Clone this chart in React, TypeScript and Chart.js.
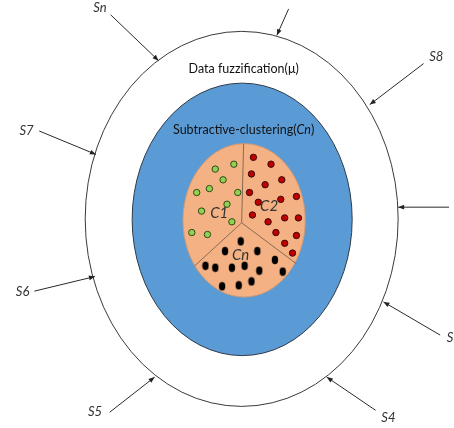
import { useEffect, useRef } from 'react';
import { Chart, registerables } from 'chart.js';

Chart.register(...registerables);

// rings: outer fuzzification ring, clustering disc, cluster disc
const ringCx = [242, 242.5, 244.5];
const ringCy = [219, 219.5, 220.5];
const ringRx = [160, 112.5, 62.5];
const ringRy = [192, 139.5, 78.5];
const ringFill = ['#ffffff', '#5b9bd5', '#f4b183'];
const ringStroke = ['#3a3a3a', '#2f3b48', '#d49a73'];

const dividerCenter: [number, number] = [242, 223];
const dividerEnds: [number, number][] = [
  [244, 142],
  [194, 267],
  [298, 265],
];

const greenPoints: [number, number][] = [
  [215, 168], [234, 163], [223, 179], [196, 192], [209, 188], [238, 192],
  [227, 204], [201, 211], [232, 222], [191, 233], [207, 235],
];
const redPoints: [number, number][] = [
  [254, 156], [272, 163], [252, 173], [283, 179], [266, 184], [250, 192],
  [298, 196], [282, 199], [259, 202], [253, 215], [269, 222], [286, 218],
  [300, 218], [277, 233], [298, 236], [286, 244], [294, 254],
];
const blackPoints: [number, number][] = [
  [241, 242], [225, 252], [258, 252], [276, 261], [205, 267], [215, 269],
  [232, 269], [245, 267], [260, 272], [284, 273], [222, 288], [239, 287],
  [252, 283],
];

// arrows: [fromX, fromY, toX, toY]
const arrowLabels = ['Sn', 'S9', 'S8', 'S7', 'S6', 'S5', 'S4', 'S3', 'S2'];
const arrowSegments: [number, number, number, number][] = [
  [108, 10, 157, 57],
  [290, 4, 278, 31],
  [428, 60, 373, 102],
  [35, 129, 93, 153],
  [30, 293, 92, 278],
  [107, 417, 153, 381],
  [379, 415, 329, 381],
  [445, 338, 387, 304],
  [460, 207, 402, 207],
];
const arrowLabelPos: [number, number][] = [
  [97, 3], [298, -12], [441, 53], [22, 129], [18, 294], [92, 417],
  [392, 423], [459, 341], [470, 207],
];

const titleTexts = ['Data fuzzification(\u03bc)', 'Subtractive-clustering('];
const titlePos: [number, number][] = [
  [244, 65],
  [244, 128],
];
const clusterLabels = ['C1', 'C2', 'Cn'];
const clusterLabelPos: [number, number][] = [
  [219, 213],
  [270, 206],
  [241, 256],
];

const FONT = 'Lato, "Open Sans", sans-serif';

function makeBlackDot() {
  const c = document.createElement('canvas');
  c.width = 8;
  c.height = 10;
  const ctx = c.getContext('2d')!;
  ctx.fillStyle = '#000000';
  ctx.beginPath();
  ctx.ellipse(4, 5, 3.2, 4.2, 0, 0, Math.PI * 2);
  ctx.fill();
  return c;
}

const diagramPlugin = {
  id: 'diagram',
  beforeDatasetsDraw(chart: Chart) {
    const { ctx } = chart;
    const xs = chart.scales.x;
    const ys = chart.scales.y;
    ctx.save();
    ringCx.forEach((cx, i) => {
      const px = xs.getPixelForValue(cx);
      const py = ys.getPixelForValue(ringCy[i]);
      const rx = Math.abs(xs.getPixelForValue(cx + ringRx[i]) - px);
      const ry = Math.abs(ys.getPixelForValue(ringCy[i] + ringRy[i]) - py);
      ctx.beginPath();
      ctx.ellipse(px, py, rx, ry, 0, 0, Math.PI * 2);
      ctx.fillStyle = ringFill[i];
      ctx.fill();
      ctx.lineWidth = 1;
      ctx.strokeStyle = ringStroke[i];
      ctx.stroke();
    });
    ctx.restore();
  },
  afterDatasetsDraw(chart: Chart) {
    const { ctx } = chart;
    const xs = chart.scales.x;
    const ys = chart.scales.y;
    const X = (v: number) => xs.getPixelForValue(v);
    const Y = (v: number) => ys.getPixelForValue(v);
    ctx.save();
    // arrow heads
    ctx.fillStyle = '#222222';
    arrowSegments.forEach(([x0, y0, x1, y1]) => {
      const a = Math.atan2(Y(y1) - Y(y0), X(x1) - X(x0));
      const len = 6;
      const w = 2.4;
      const tx = X(x1);
      const ty = Y(y1);
      ctx.beginPath();
      ctx.moveTo(tx, ty);
      ctx.lineTo(tx - len * Math.cos(a) + w * Math.sin(a), ty - len * Math.sin(a) - w * Math.cos(a));
      ctx.lineTo(tx - len * Math.cos(a) - w * Math.sin(a), ty - len * Math.sin(a) + w * Math.cos(a));
      ctx.closePath();
      ctx.fill();
    });
    // S labels
    ctx.fillStyle = '#333333';
    ctx.font = `italic 13px ${FONT}`;
    ctx.textAlign = 'center';
    ctx.textBaseline = 'middle';
    arrowLabels.forEach((t, i) => {
      ctx.fillText(t, X(arrowLabelPos[i][0]), Y(arrowLabelPos[i][1]));
    });
    // titles
    ctx.fillStyle = '#111111';
    ctx.font = `12.5px ${FONT}`;
    ctx.fillText(titleTexts[0], X(titlePos[0][0]), Y(titlePos[0][1]));
    const head = titleTexts[1];
    const w1 = ctx.measureText(head).width;
    ctx.font = `italic 12.5px ${FONT}`;
    const w2 = ctx.measureText('Cn').width;
    ctx.font = `12.5px ${FONT}`;
    const w3 = ctx.measureText(')').width;
    const total = w1 + w2 + w3;
    let sx = X(titlePos[1][0]) - total / 2;
    const sy = Y(titlePos[1][1]);
    ctx.textAlign = 'left';
    ctx.fillText(head, sx, sy);
    sx += w1;
    ctx.font = `italic 12.5px ${FONT}`;
    ctx.fillText('Cn', sx, sy);
    sx += w2;
    ctx.font = `12.5px ${FONT}`;
    ctx.fillText(')', sx, sy);
    // cluster labels
    ctx.textAlign = 'center';
    ctx.fillStyle = '#333333';
    ctx.font = `italic 15px ${FONT}`;
    clusterLabels.forEach((t, i) => {
      ctx.fillText(t, X(clusterLabelPos[i][0]), Y(clusterLabelPos[i][1]));
    });
    ctx.restore();
  },
};

export default function App() {
  const canvasRef = useRef<HTMLCanvasElement | null>(null);

  useEffect(() => {
    document.body.style.margin = '0';
    if (!canvasRef.current) {
      return;
    }

    const toXY = (p: [number, number]) => ({ x: p[0], y: p[1] });

    const dividerSets = dividerEnds.map((e) => ({
      type: 'line' as const,
      data: [toXY(dividerCenter), toXY(e)],
      borderColor: '#8a6a55',
      borderWidth: 1,
      pointRadius: 0,
      showLine: true,
      fill: false,
    }));

    const arrowSets = arrowSegments.map(([x0, y0, x1, y1]) => ({
      type: 'line' as const,
      data: [
        { x: x0, y: y0 },
        { x: x1, y: y1 },
      ],
      borderColor: '#2a2a2a',
      borderWidth: 1,
      pointRadius: 0,
      showLine: true,
      fill: false,
    }));

    const chart = new Chart(canvasRef.current, {
      type: 'scatter',
      data: {
        datasets: [
          ...dividerSets,
          ...arrowSets,
          {
            label: 'C1',
            data: greenPoints.map(toXY),
            backgroundColor: '#92d050',
            borderColor: '#2e4a1a',
            borderWidth: 1,
            pointRadius: 3.2,
          },
          {
            label: 'C2',
            data: redPoints.map(toXY),
            backgroundColor: '#c00000',
            borderColor: '#3a0a0a',
            borderWidth: 1,
            pointRadius: 3.2,
          },
          {
            label: 'Cn',
            data: blackPoints.map(toXY),
            pointStyle: makeBlackDot(),
            pointRadius: 4,
          },
        ] as any,
      },
      options: {
        animation: false,
        responsive: false,
        maintainAspectRatio: false,
        layout: { padding: 0 },
        plugins: {
          legend: { display: false },
          tooltip: { enabled: false },
        },
        events: [],
        scales: {
          x: { type: 'linear', min: 0, max: 454, display: false },
          y: { type: 'linear', min: 0, max: 428, reverse: true, display: false },
        },
      },
      plugins: [diagramPlugin],
    });

    return () => {
      chart.destroy();
    };
  }, []);

  return (
    <div style={{ width: 454, height: 428, background: '#ffffff' }}>
      <canvas ref={canvasRef} width={454} height={428} />
    </div>
  );
}
